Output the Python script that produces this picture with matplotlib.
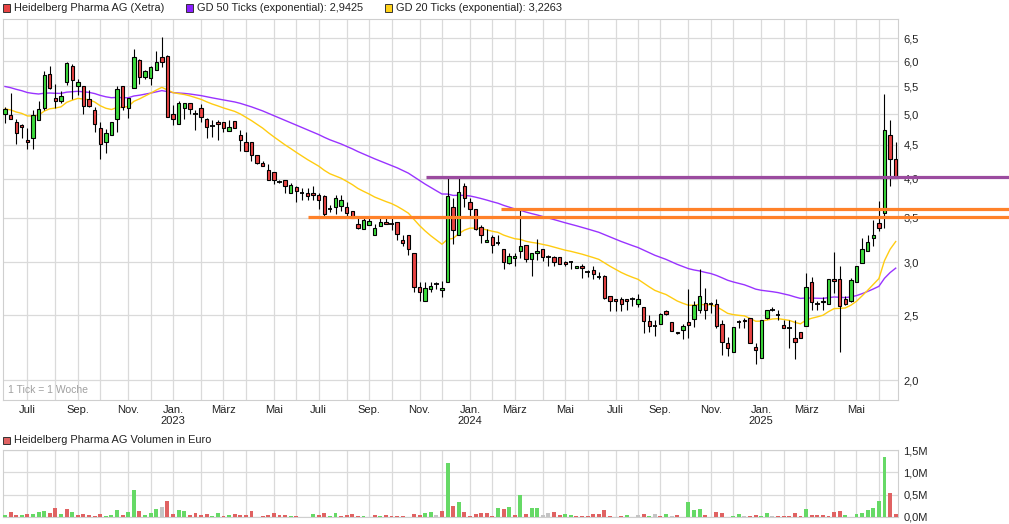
import matplotlib
matplotlib.use('Agg')
import matplotlib.pyplot as plt
import numpy as np
import pandas as pd
from matplotlib.patches import Rectangle
from matplotlib.ticker import NullLocator

plt.rcParams['font.family'] = ['Liberation Sans', 'DejaVu Sans']

# ---------------- data ----------------
start_date = '2022-06-05'   # weekly candles (1 Tick = 1 Woche)

opens = [5.01, 4.99, 4.86, 4.81, 4.58, 4.60, 4.90, 5.10, 5.75, 5.29,
         5.23, 5.59, 5.90, 5.50, 5.50, 5.26, 5.07, 4.77, 4.54, 4.66,
         4.92, 5.50, 5.10, 5.48, 6.02, 5.69, 5.67, 5.83, 6.09, 6.11,
         5.01, 4.83, 5.10, 5.20, 5.00, 5.10, 4.91, 4.80, 4.86, 4.86,
         4.71, 4.89, 4.66, 4.55, 4.55, 4.34, 4.23, 4.13, 4.09, 3.96,
         3.98, 3.81, 3.89, 3.81, 3.81, 3.81, 3.78, 3.77, 3.61, 3.63,
         3.64, 3.63, 3.58, 3.43, 3.36, 3.41, 3.30, 3.40, 3.45, 3.43,
         3.45, 3.24, 3.30, 3.095, 2.76, 2.63, 2.74, 2.78, 2.73, 2.80,
         3.63, 3.30, 3.90, 3.70, 3.60, 3.39, 3.22, 3.27, 3.21, 3.14,
         2.99, 3.05, 3.12, 3.18, 3.03, 3.10, 3.14, 3.06, 3.06, 3.06,
         3.00, 3.00, 2.94, 2.96, 2.90, 2.92, 2.85, 2.86, 2.67, 2.64,
         2.64, 2.64, 2.64, 2.60, 2.57, 2.45, 2.41, 2.43, 2.54, 2.44,
         2.36, 2.38, 2.44, 2.47, 2.55, 2.61, 2.60, 2.60, 2.43, 2.27,
         2.20, 2.44, 2.46, 2.48, 2.24, 2.16, 2.48, 2.55, 2.50, 2.42,
         2.39, 2.31, 2.36, 2.41, 2.80, 2.60, 2.62, 2.60, 2.83, 2.83,
         2.64, 2.63, 2.80, 2.99, 3.12, 3.26, 3.44, 3.56, 4.66, 4.29]

highs = [5.13, 5.38, 4.91, 4.83, 4.77, 5.07, 5.24, 5.80, 5.90, 5.54,
         5.41, 5.98, 5.94, 5.64, 5.51, 5.44, 5.13, 4.87, 4.75, 4.87,
         5.51, 5.51, 5.29, 6.25, 6.04, 5.83, 5.90, 6.22, 6.52, 6.13,
         5.16, 5.24, 5.20, 5.20, 5.08, 5.17, 4.93, 4.90, 4.90, 4.87,
         4.90, 4.89, 4.74, 4.70, 4.55, 4.34, 4.25, 4.21, 4.09, 3.99,
         3.99, 3.94, 3.90, 3.88, 3.87, 3.90, 3.81, 3.79, 3.65, 3.79,
         3.79, 3.70, 3.58, 3.49, 3.49, 3.50, 3.43, 3.49, 3.49, 3.49,
         3.45, 3.30, 3.30, 3.095, 2.80, 2.80, 2.80, 2.80, 2.81, 4.02,
         3.74, 4.03, 3.95, 3.74, 3.60, 3.41, 3.37, 3.30, 3.30, 3.14,
         3.10, 3.10, 3.59, 3.18, 3.10, 3.25, 3.14, 3.08, 3.07, 3.06,
         3.01, 3.01, 2.96, 2.98, 2.92, 2.96, 2.90, 2.87, 2.67, 2.64,
         2.66, 2.64, 2.66, 2.69, 2.57, 2.50, 2.46, 2.52, 2.55, 2.44,
         2.36, 2.43, 2.74, 2.63, 2.93, 2.75, 2.62, 2.64, 2.46, 2.32,
         2.40, 2.46, 2.48, 2.48, 2.27, 2.46, 2.55, 2.57, 2.55, 2.46,
         2.46, 2.46, 2.36, 2.89, 2.85, 2.63, 2.66, 2.83, 3.11, 2.96,
         2.67, 2.84, 2.96, 3.26, 3.30, 3.47, 3.71, 5.36, 4.90, 4.55]

lows = [4.85, 4.92, 4.51, 4.60, 4.43, 4.43, 4.90, 5.07, 5.45, 5.10,
        5.20, 5.52, 5.26, 5.34, 5.00, 5.13, 4.70, 4.29, 4.38, 4.66,
        4.70, 5.07, 4.94, 5.48, 5.54, 5.64, 5.52, 5.83, 5.88, 4.95,
        4.82, 4.83, 4.91, 5.00, 4.74, 4.87, 4.60, 4.62, 4.58, 4.70,
        4.71, 4.77, 4.41, 4.41, 4.26, 4.21, 4.18, 3.99, 3.93, 3.94,
        3.81, 3.81, 3.70, 3.72, 3.72, 3.72, 3.61, 3.52, 3.57, 3.55,
        3.58, 3.52, 3.50, 3.37, 3.36, 3.41, 3.30, 3.40, 3.42, 3.35,
        3.24, 3.17, 3.08, 2.71, 2.63, 2.63, 2.71, 2.74, 2.66, 2.80,
        3.20, 3.30, 3.63, 3.52, 3.35, 3.21, 3.22, 3.10, 3.19, 2.93,
        2.98, 2.96, 3.05, 3.00, 2.86, 3.02, 3.01, 2.96, 2.96, 2.98,
        2.96, 2.93, 2.94, 2.84, 2.85, 2.83, 2.83, 2.64, 2.54, 2.54,
        2.54, 2.55, 2.58, 2.57, 2.35, 2.36, 2.33, 2.43, 2.50, 2.37,
        2.34, 2.30, 2.31, 2.40, 2.52, 2.47, 2.52, 2.39, 2.18, 2.17,
        2.20, 2.39, 2.39, 2.27, 2.11, 2.16, 2.47, 2.54, 2.46, 2.39,
        2.23, 2.15, 2.31, 2.41, 2.55, 2.55, 2.55, 2.60, 2.70, 2.20,
        2.59, 2.62, 2.80, 2.99, 3.12, 3.17, 3.34, 3.38, 3.90, 4.03]

closes = [5.09, 4.92, 4.69, 4.78, 4.55, 4.98, 5.09, 5.73, 5.48, 5.23,
          5.33, 5.96, 5.62, 5.59, 5.15, 5.14, 4.83, 4.51, 4.68, 4.87,
          5.46, 5.13, 5.29, 6.09, 5.69, 5.81, 5.88, 5.98, 5.98, 4.95,
          4.92, 5.19, 5.20, 5.09, 5.00, 4.95, 4.79, 4.80, 4.83, 4.77,
          4.78, 4.77, 4.58, 4.41, 4.35, 4.22, 4.18, 3.99, 3.98, 3.96,
          3.90, 3.91, 3.83, 3.81, 3.77, 3.78, 3.72, 3.55, 3.61, 3.74,
          3.72, 3.56, 3.50, 3.38, 3.47, 3.46, 3.38, 3.45, 3.43, 3.43,
          3.31, 3.21, 3.14, 2.76, 2.71, 2.75, 2.77, 2.78, 2.75, 3.77,
          3.35, 3.82, 3.74, 3.60, 3.37, 3.30, 3.24, 3.18, 3.21, 3.00,
          3.07, 3.07, 3.17, 3.03, 3.10, 3.12, 3.06, 3.06, 3.00, 2.98,
          2.98, 3.00, 2.96, 2.94, 2.90, 2.88, 2.85, 2.65, 2.63, 2.63,
          2.60, 2.63, 2.64, 2.64, 2.45, 2.41, 2.41, 2.51, 2.51, 2.37,
          2.35, 2.41, 2.42, 2.59, 2.67, 2.55, 2.60, 2.41, 2.28, 2.23,
          2.40, 2.44, 2.45, 2.27, 2.22, 2.46, 2.55, 2.55, 2.50, 2.39,
          2.39, 2.28, 2.31, 2.76, 2.62, 2.60, 2.63, 2.83, 2.81, 2.58,
          2.60, 2.82, 2.96, 3.14, 3.22, 3.30, 3.38, 4.74, 4.28, 4.03]

# weekly turnover in million euro and its bar colour (g = up, r = down, n = unchanged)
volume_m = [0.045, 0.11, 0.045, 0.045, 0.07, 0.075, 0.11, 0.135, 0.09, 0.195,
            0.07, 0.17, 0.11, 0.045, 0.07, 0.045, 0.03, 0.07, 0.02, 0.045,
            0.16, 0.045, 0.11, 0.61, 0.13, 0.05, 0.09, 0.17, 0.225, 0.36,
            0.07, 0.16, 0.135, 0.045, 0.09, 0.045, 0.07, 0.015, 0.08, 0.02,
            0.045, 0.07, 0.045, 0.045, 0.13, 0.01, 0.03, 0.045, 0.09, 0.045,
            0.045, 0.02, 0.02, 0.01, 0.01, 0.07, 0.045, 0.09, 0.02, 0.09,
            0.02, 0.045, 0.07, 0.02, 0.02, 0.01, 0.045, 0.015, 0.045, 0.02,
            0.02, 0.02, 0.01, 0.07, 0.05, 0.09, 0.11, 0.045, 0.135, 1.2,
            0.25, 0.345, 0.11, 0.02, 0.07, 0.09, 0.09, 0.02, 0.2, 0.18,
            0.225, 0.045, 0.5, 0.07, 0.2, 0.2, 0.045, 0.09, 0.11, 0.045,
            0.07, 0.045, 0.02, 0.02, 0.02, 0.07, 0.07, 0.16, 0.02, 0.01,
            0.02, 0.045, 0.01, 0.045, 0.07, 0.02, 0.07, 0.02, 0.07, 0.02,
            0.045, 0.01, 0.34, 0.16, 0.18, 0.045, 0.01, 0.11, 0.09, 0.01,
            0.02, 0.07, 0.02, 0.02, 0.045, 0.02, 0.09, 0.02, 0.02, 0.02,
            0.02, 0.09, 0.02, 0.18, 0.045, 0.045, 0.045, 0.02, 0.11, 0.135,
            0.045, 0.01, 0.07, 0.09, 0.16, 0.2, 0.36, 1.35, 0.53, 0.07]

volume_dir = list("grrgrgggrr" "grgrrrrrgg" "grggrgggnr" "rggrrrrggr"
                  "grrrrrrrrr" "rgrrrgrrgg" "rrrrgrrgrr" "rrrrrggnrg"
                  "rgrrrrrrgr" "grgrggnnrr" "ggrrrrrrrn" "rgnnrgnrgn"
                  "rrgggrgrrr" "ggnrrggnrr" "rrrgrrrrrr" "ggggggggrr")

ema50_start = 5.50   # GD 50 level at the first candle
ema20_start = 5.09   # GD 20 level at the first candle
legend_ema50 = "2,9425"
legend_ema20 = "3,2263"

resistance_levels = [4.03, 3.60, 3.51]
resistance_start_idx = [75.2, 88.6, 54.1]
resistance_colors = ['#9B4B9F', '#FF8129', '#FF8129']

y_ticks = [2.0, 2.5, 3.0, 3.5, 4.0, 4.5, 5.0, 5.5, 6.0, 6.5]
vol_ticks = [0.0, 0.5, 1.0, 1.5]
month_names = {1: 'Jan.', 2: 'Feb.', 3: 'März', 4: 'Apr.', 5: 'Mai', 6: 'Juni',
               7: 'Juli', 8: 'Aug.', 9: 'Sep.', 10: 'Okt.', 11: 'Nov.', 12: 'Dez.'}

# ---------------- derived ----------------
n = len(closes)
x = np.arange(n)
o = np.array(opens); h = np.array(highs); l = np.array(lows); c = np.array(closes)
dates = pd.date_range(start_date, periods=n, freq='7D')


def ema(values, span, seed):
    a = 2.0 / (span + 1)
    out = [seed]
    for v in values[1:]:
        out.append(out[-1] + a * (v - out[-1]))
    return np.array(out)


ema50 = ema(c, 50, ema50_start)
ema20 = ema(c, 20, ema20_start)

month_idx = [i for i in range(1, n) if dates[i].month != dates[i - 1].month]
month_lbl = []
for i in month_idx:
    m = dates[i].month
    if m % 2 == 1:
        s = month_names[m]
        if m == 1:
            s += '\n' + str(dates[i].year)
        month_lbl.append(s)
    else:
        month_lbl.append('')

# ---------------- figure ----------------
W, H = 1009, 524
fig = plt.figure(figsize=(W / 100, H / 100), dpi=100)
fig.patch.set_facecolor('white')


def fx(px):
    return px / W


def fy(py):
    return 1 - py / H


L_PX, R_PX = 2.5, 898
ax = fig.add_axes([fx(L_PX), fy(400), fx(R_PX) - fx(L_PX), fy(19) - fy(400)])
axv = fig.add_axes([fx(L_PX), fy(517), fx(R_PX) - fx(L_PX), fy(450) - fy(517)])

step = (895.7 - 5.0) / (n - 1)
x_left = (L_PX - 5.0) / step
x_right = (R_PX - 5.0) / step
x_fig_right = (W - 5.0) / step

grid_c = '#DADADA'
spine_c = '#CFCFCF'
green = '#3CDC3C'
red = '#E84343'

# main price panel
ax.set_yscale('log')
for sp in ax.spines.values():
    sp.set_color(spine_c)
    sp.set_linewidth(0.8)

ax.vlines(x, l, h, color='black', linewidth=0.8, zorder=3)
up = c > o
dn = c < o
eq = c == o
bw = 0.6
ax.bar(x[up], (c - o)[up], bottom=o[up], width=bw, color=green,
       edgecolor='black', linewidth=0.8, zorder=4)
ax.bar(x[dn], (o - c)[dn], bottom=c[dn], width=bw, color=red,
       edgecolor='black', linewidth=0.8, zorder=4)
ax.hlines(c[eq], x[eq] - bw / 2 - 0.1, x[eq] + bw / 2 + 0.1, color='black',
          linewidth=1.3, zorder=4)

ax.plot(x, ema50, color='#9933FF', linewidth=1.0, zorder=2.6)
ax.plot(x, ema20, color='#FFCC11', linewidth=1.0, zorder=2.6)

for lvl, xs, col in zip(resistance_levels, resistance_start_idx, resistance_colors):
    ax.plot([xs, x_fig_right + 1], [lvl, lvl], color=col, linewidth=2.3,
            solid_capstyle='butt', clip_on=False, zorder=5)

ax.set_xlim(x_left, x_right)
ax.set_ylim(1.867, 6.94)
ax.set_yticks(y_ticks)
ax.set_yticklabels([f"{v:.1f}".replace('.', ',') for v in y_ticks])
ax.yaxis.set_minor_locator(NullLocator())
ax.yaxis.tick_right()
ax.set_xticks(month_idx)
ax.set_xticklabels(month_lbl)
ax.tick_params(axis='both', length=0, labelsize=8, colors='#222222')
ax.tick_params(axis='y', pad=4)
ax.tick_params(axis='x', pad=3.5)
ax.grid(True, color=grid_c, linewidth=0.9, zorder=0)
ax.set_axisbelow(True)
ax.text(0.006, 0.012, '1 Tick = 1 Woche', transform=ax.transAxes,
        fontsize=7.5, color='#A0A0A0', ha='left', va='bottom')

# volume panel
for sp in axv.spines.values():
    sp.set_color(spine_c)
    sp.set_linewidth(0.8)
vol_col = {'g': '#66D966', 'r': '#E06262', 'n': '#C4C4C4'}
axv.bar(x, volume_m, width=0.7, color=[vol_col[d] for d in volume_dir], zorder=3)
axv.set_xlim(x_left, x_right)
axv.set_ylim(0, 1.5)
axv.set_yticks(vol_ticks)
axv.set_yticklabels([f"{v:.1f}M".replace('.', ',') for v in vol_ticks])
axv.yaxis.tick_right()
axv.set_xticks(month_idx)
axv.set_xticklabels([])
axv.tick_params(axis='both', length=0, labelsize=8, colors='#222222')
axv.tick_params(axis='y', pad=4)
axv.grid(True, color=grid_c, linewidth=0.9, zorder=0)
axv.set_axisbelow(True)

# legends drawn as figure text with small squares


def legend_item(px, py, color, label):
    fig.patches.append(Rectangle((fx(px), fy(py + 3.5)), 7 / W, 7 / H,
                                 transform=fig.transFigure, facecolor=color,
                                 edgecolor='#333333', linewidth=0.7))
    fig.text(fx(px + 11), fy(py), label, fontsize=7.9, color='#222222',
             ha='left', va='center')


legend_item(2.5, 8, red, 'Heidelberg Pharma AG (Xetra)')
legend_item(186, 8, '#8A1EFF', f'GD 50 Ticks (exponential): {legend_ema50}')
legend_item(385, 8, '#FFD21A', f'GD 20 Ticks (exponential): {legend_ema20}')
legend_item(2.5, 440, '#E06262', 'Heidelberg Pharma AG Volumen in Euro')

fig.savefig('out.png', dpi=100, facecolor='white')
